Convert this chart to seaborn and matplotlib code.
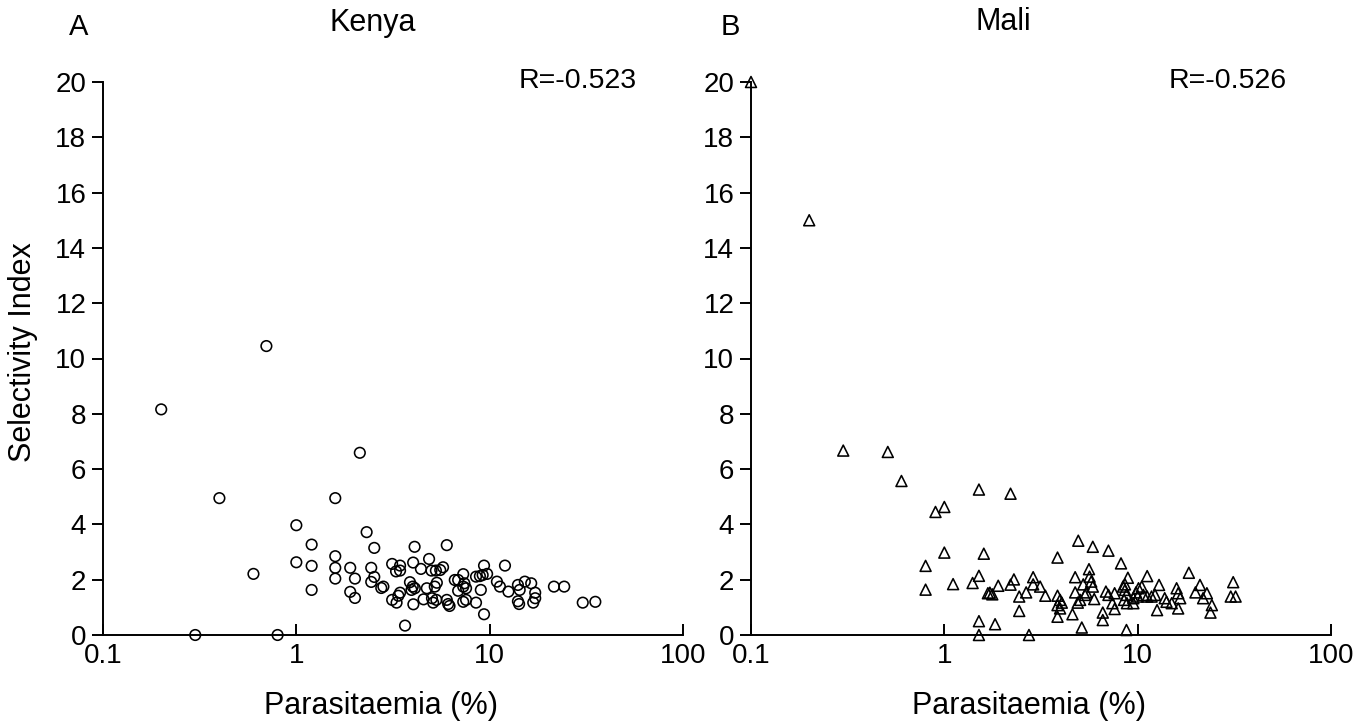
import numpy as np
import pandas as pd
import matplotlib
matplotlib.use("Agg")
import matplotlib.pyplot as plt
import seaborn as sns

# ---------------- data ----------------
kenya_parasitaemia = [
    0.20, 0.70, 2.13, 0.40, 1.59, 1.0, 2.31, 1.20, 2.53, 1.59,
    1.0, 1.20, 1.59, 1.90, 2.44, 3.13, 3.28, 0.60, 1.59, 2.01,
    2.53, 2.44, 2.82, 2.75, 1.20, 1.90, 2.01, 3.13, 3.30, 0.30,
    0.80, 3.44, 3.44, 3.37, 3.44, 3.65, 4.09, 4.02, 4.41, 4.86,
    5.0, 5.27, 5.55, 5.74, 6.0, 3.87, 4.0, 3.94, 4.1, 4.03,
    4.55, 4.73, 5.03, 5.1, 5.3, 5.33, 5.2, 6.0, 6.1, 6.2,
    6.6, 6.87, 7.3, 7.4, 7.3, 7.55, 6.87, 7.3, 7.55, 8.5,
    8.9, 9.2, 9.35, 9.7, 9.0, 8.5, 9.35, 12.0, 10.9, 11.3,
    12.5, 14.0, 14.3, 14.0, 14.2, 15.2, 16.4, 17.2, 17.2, 16.8,
    21.5, 24.3, 30.3, 35.2,
]
kenya_selectivity = [
    8.16, 10.45, 6.59, 4.95, 4.95, 3.97, 3.72, 3.27, 3.15, 2.85,
    2.63, 2.50, 2.43, 2.43, 2.43, 2.57, 2.30, 2.21, 2.04, 2.04,
    2.10, 1.92, 1.75, 1.70, 1.63, 1.56, 1.34, 1.27, 1.17, 0.0,
    0.0, 2.51, 2.33, 1.42, 1.53, 0.34, 3.19, 2.62, 2.39, 2.75,
    2.33, 2.33, 2.35, 2.45, 3.25, 1.91, 1.75, 1.63, 1.69, 1.11,
    1.29, 1.69, 1.33, 1.17, 1.27, 1.89, 1.75, 1.27, 1.12, 1.05,
    1.99, 1.99, 2.20, 1.87, 1.75, 1.69, 1.60, 1.20, 1.27, 2.11,
    2.13, 2.17, 2.51, 2.21, 1.63, 1.17, 0.75, 2.51, 1.93, 1.75,
    1.57, 1.81, 1.63, 1.22, 1.12, 1.93, 1.87, 1.53, 1.33, 1.17,
    1.75, 1.75, 1.17, 1.20,
]

mali_parasitaemia = [
    0.1, 0.2, 0.3, 0.51, 0.6, 1.51, 2.20, 0.9, 1.0, 1.0,
    1.6, 0.8, 0.8, 1.11, 1.4, 1.51, 1.68, 1.51, 1.51, 1.72,
    1.77, 1.90, 1.83, 2.20, 2.29, 2.44, 2.44, 2.65, 2.74, 2.88,
    2.88, 3.13, 3.33, 3.85, 3.85, 3.97, 4.05, 3.85, 3.97, 3.85,
    4.60, 4.75, 4.75, 4.93, 4.9, 5.04, 5.14, 5.23, 5.43, 5.34,
    5.6, 5.64, 5.75, 5.86, 5.86, 5.96, 6.6, 6.6, 6.85, 7.06,
    7.06, 7.4, 7.6, 8.2, 8.4, 8.6, 8.75, 8.9, 8.75, 9.5,
    9.8, 10.1, 10.5, 11.2, 11.2, 7.6, 8.6, 8.5, 8.8, 10.0,
    9.5, 10.7, 11.8, 12.3, 12.9, 12.6, 13.8, 14.1, 15.0, 15.9,
    16.2, 16.6, 16.2, 18.4, 19.9, 21.0, 21.8, 22.8, 24.2, 23.8,
    31.2, 30.3, 32.1,
]
mali_selectivity = [
    20.0, 15.0, 6.67, 6.62, 5.57, 5.26, 5.11, 4.45, 4.63, 2.98,
    2.94, 2.50, 1.64, 1.84, 1.88, 2.14, 1.51, 0.50, 0.0, 1.53,
    1.47, 1.78, 0.39, 1.82, 2.01, 1.39, 0.87, 1.54, 0.0, 2.09,
    1.83, 1.75, 1.42, 2.80, 1.42, 1.27, 1.17, 1.08, 0.96, 0.66,
    0.75, 2.09, 1.54, 3.41, 1.17, 1.27, 0.27, 1.83, 1.54, 1.45,
    2.38, 2.11, 1.93, 1.75, 3.19, 1.30, 0.81, 0.54, 1.57, 1.45,
    3.05, 1.15, 0.94, 2.59, 1.75, 1.83, 1.45, 2.07, 0.18, 1.15,
    1.54, 1.69, 1.75, 2.13, 1.39, 1.51, 1.63, 1.27, 1.15, 1.39,
    1.33, 1.45, 1.39, 1.45, 1.81, 0.90, 1.33, 1.20, 1.15, 1.69,
    1.51, 1.33, 0.96, 2.25, 1.54, 1.81, 1.33, 1.51, 1.08, 0.81,
    1.91, 1.39, 1.39,
]

panel_letters = ["A", "B"]
panel_titles = ["Kenya", "Mali"]
r_labels = ["R=-0.523", "R=-0.526"]
x_ticks = [0.1, 1, 10, 100]
x_tick_labels = ["0.1", "1", "10", "100"]
y_ticks = list(range(0, 21, 2))

# ---------------- style ----------------
sns.set_theme(style="white")
plt.rcParams["font.family"] = ["Liberation Sans", "DejaVu Sans"]
plt.rcParams["text.color"] = "black"
plt.rcParams["axes.labelcolor"] = "black"
plt.rcParams["xtick.color"] = "black"
plt.rcParams["ytick.color"] = "black"

W, H = 1370, 723
fig = plt.figure(figsize=(W / 100, H / 100), dpi=100)

def fx(px):
    return px / W

def fy(py):
    return 1 - py / H

ax_left = fig.add_axes([fx(103), fy(635), fx(683) - fx(103), fy(82) - fy(635)])
ax_right = fig.add_axes([fx(751), fy(635), fx(1331) - fx(751), fy(82) - fy(635)])

kenya_df = pd.DataFrame({"Parasitaemia": kenya_parasitaemia, "Selectivity": kenya_selectivity})
mali_df = pd.DataFrame({"Parasitaemia": mali_parasitaemia, "Selectivity": mali_selectivity})

sns.scatterplot(data=kenya_df, x="Parasitaemia", y="Selectivity", ax=ax_left,
                marker="o", s=58, facecolor="none", edgecolor="black",
                linewidth=1.15, clip_on=False, zorder=3)
sns.scatterplot(data=mali_df, x="Parasitaemia", y="Selectivity", ax=ax_right,
                marker="^", s=62, facecolor="none", edgecolor="black",
                linewidth=1.15, clip_on=False, zorder=3)

FS_TICK = 20
FS_LABEL = 22
FS_R = 20.5
FS_LETTER = 21

for ax in (ax_left, ax_right):
    ax.set_xscale("log")
    ax.set_xlim(0.1, 100)
    ax.set_ylim(0, 20)
    ax.set_xticks(x_ticks)
    ax.set_xticklabels(x_tick_labels)
    ax.xaxis.set_minor_locator(matplotlib.ticker.NullLocator())
    ax.set_yticks(y_ticks)
    ax.set_yticklabels([str(v) for v in y_ticks])
    for side in ("top", "right"):
        ax.spines[side].set_visible(False)
    for side in ("left", "bottom"):
        ax.spines[side].set_linewidth(1.4)
        ax.spines[side].set_color("black")
    ax.tick_params(axis="x", direction="in", length=8, width=1.4, pad=6,
                   labelsize=FS_TICK, colors="black", bottom=True)
    ax.tick_params(axis="y", direction="out", length=8, width=1.4, pad=4,
                   labelsize=FS_TICK, colors="black", left=True)
    ax.set_xlabel("Parasitaemia (%)", fontsize=FS_LABEL, color="black")
    ax.xaxis.set_label_coords((381 - 103) / 580, (635 - 691) / 553)
    ax.set_ylabel("")
    ax.grid(False)
    ax.patch.set_alpha(0)

ax_left.set_ylabel("Selectivity Index", fontsize=FS_LABEL, color="black")
ax_left.yaxis.set_label_coords((38 - 103) / 580, (635 - 352) / 553)

# titles, panel letters and R values
fig.text(fx(79), fy(27), panel_letters[0], fontsize=FS_LETTER, ha="center", va="center", color="black")
fig.text(fx(373), fy(23), panel_titles[0], fontsize=FS_LABEL, ha="center", va="center", color="black")
fig.text(fx(730), fy(27), panel_letters[1], fontsize=FS_LETTER, ha="center", va="center", color="black")
fig.text(fx(1003), fy(22), panel_titles[1], fontsize=FS_LABEL, ha="center", va="center", color="black")
fig.text(fx(637), fy(81), r_labels[0], fontsize=FS_R, ha="right", va="center", color="black")
fig.text(fx(1287), fy(81), r_labels[1], fontsize=FS_R, ha="right", va="center", color="black")

fig.savefig("out.png", dpi=100, facecolor="white")
